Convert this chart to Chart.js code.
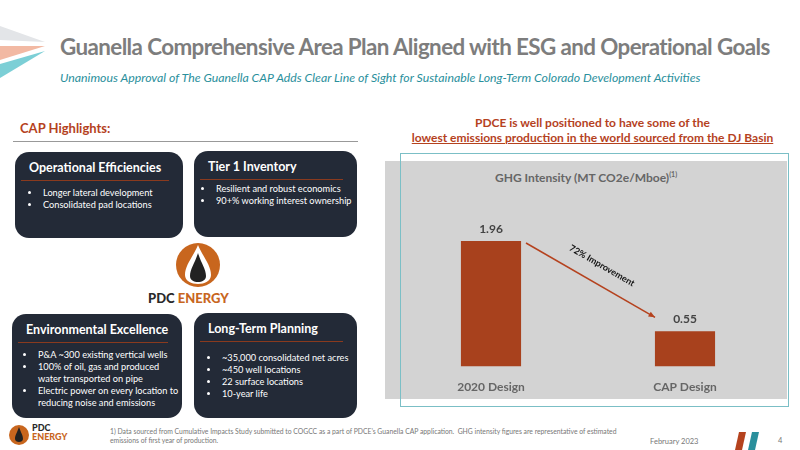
<!DOCTYPE html>
<html>
<head>
<meta charset="utf-8">
<script src="https://cdn.jsdelivr.net/npm/chart.js@4"></script>
<style>
  body { margin: 0; width: 800px; height: 450px; overflow: hidden; background: #fff; font-family: Lato, "Open Sans", sans-serif; position: relative; }
  .abs { position: absolute; }
  .box { position: absolute; background: #232a37; border-radius: 14px; color: #fff; }
  .box h3 { margin: 0 14px 0 6px; font-size: 12.5px; font-weight: bold; padding: 8px 0 5px 8px; border-bottom: 1px solid #8a3a1e; white-space: nowrap; }
  .box ul { margin: 6px 0 0 0; padding-left: 26px; font-size: 9.2px; line-height: 12px; }
  .box li { padding-left: 2px; }
</style>
</head>
<body>
<svg class="abs" style="left:0;top:18px" width="50" height="60">
  <polygon points="0,8 45,24 0,22" fill="#e3e5e8"/>
  <polygon points="0,28 45,28 0,42" fill="#f2b9a3"/>
  <polygon points="0,46 45,33 0,60" fill="#7ccfd6"/>
</svg>
<div class="abs" style="left:60px;top:33px;font-size:22.4px;font-weight:bold;color:#7d7d7d;letter-spacing:-0.6px;white-space:nowrap">Guanella Comprehensive Area Plan Aligned with ESG and Operational Goals</div>
<div class="abs" style="left:60px;top:70px;font-size:12.3px;font-style:italic;color:#2a8f9c;white-space:nowrap">Unanimous Approval of The Guanella CAP Adds Clear Line of Sight for Sustainable Long-Term Colorado Development Activities</div>

<div class="abs" style="left:20px;top:120px;font-size:13px;font-weight:bold;color:#b5421e">CAP Highlights:</div>
<div class="abs" style="left:13px;top:141px;width:345px;height:1px;background:#999"></div>

<div class="box" style="left:15px;top:152px;width:168px;height:86px"><h3>Operational Efficiencies</h3><ul><li>Longer lateral development</li><li>Consolidated pad locations</li></ul></div>
<div class="box" style="left:194px;top:151px;width:163px;height:86px"><h3>Tier 1 Inventory</h3><ul style="padding-left:20px;margin-top:3px"><li>Resilient and robust economics</li><li style="white-space:nowrap">90+% working interest ownership</li></ul></div>
<div class="box" style="left:12px;top:314px;width:170px;height:104px"><h3>Environmental Excellence</h3><ul style="padding-left:24px"><li>P&amp;A ~300 existing vertical wells</li><li>100% of oil, gas and produced water transported on pipe</li><li>Electric power on every location to reducing noise and emissions</li></ul></div>
<div class="box" style="left:194px;top:313px;width:163px;height:105px"><h3>Long-Term Planning</h3><ul style="margin-top:10px"><li>~35,000 consolidated net acres</li><li>~450 well locations</li><li>22 surface locations</li><li>10-year life</li></ul></div>

<svg class="abs" style="left:163px;top:243px" width="70" height="45">
  <circle cx="35" cy="22" r="22" fill="#c8661e"/>
  <path d="M35,2 C30,14 22,22 22,32 C22,44 48,44 48,32 C48,22 40,14 35,2Z" fill="#fff"/>
  <path d="M35,10 C32,20 27,26 27,33 C27,41 43,41 43,33 C43,26 38,20 35,10Z" fill="#222"/>
</svg>
<div class="abs" style="left:148px;top:290px;font-size:13px;font-weight:900"><span style="color:#2a2a2a">PDC </span><span style="color:#c8661e">ENERGY</span></div>

<div class="abs" style="left:385px;top:115px;width:415px;text-align:center;font-size:12px;font-weight:bold;color:#b5421e;line-height:15px">PDCE is well positioned to have some of the<br><span style="text-decoration:underline">lowest emissions production in the world sourced from the DJ Basin</span></div>
<div class="abs" style="left:385px;top:161px;width:402px;height:238px;background:#d3d3d3"></div>
<div class="abs" style="left:385px;top:170px;width:402px;text-align:center;font-size:12px;font-weight:bold;color:#666">GHG Intensity (MT CO2e/Mboe)<sup style="font-size:7px">(1)</sup></div>
<div class="abs" style="left:385px;top:161px;width:402px;height:238px"><canvas id="ghg"></canvas></div>
<div class="abs" style="left:400px;top:153px;width:389px;height:254px;border:1px solid #7bbfc6;box-sizing:border-box"></div>

<svg class="abs" style="left:8px;top:424px" width="22" height="22"><circle cx="11" cy="11" r="10" fill="#c8661e"/><path d="M11,3 C9,9 7,11 7,15 C7,19 15,19 15,15 C15,11 13,9 11,3Z" fill="#222"/></svg>
<div class="abs" style="left:32px;top:423px;font-size:9px;font-weight:900;line-height:9px"><span style="color:#2a2a2a">PDC</span><br><span style="color:#c8661e">ENERGY</span></div>
<div class="abs" style="left:110px;top:427px;font-size:6.8px;color:#777;line-height:9px;width:520px">1) Data sourced from Cumulative Impacts Study submitted to COGCC as a part of PDCE’s Guanella CAP application.&nbsp; GHG intensity figures are representative of estimated emissions of first year of production.</div>
<div class="abs" style="left:650px;top:437px;font-size:7.5px;color:#777">February 2023</div>
<svg class="abs" style="left:733px;top:432px" width="30" height="18"><polygon points="6,0 13,0 9,18 2,18" fill="#b5421e"/><polygon points="19,0 26,0 22,18 15,18" fill="#2a8f9c"/></svg>
<div class="abs" style="left:778px;top:436px;font-size:7.5px;color:#777">4</div>

<script>
const categories = ['2020 Design', 'CAP Design'];
const ghgIntensity = [1.96, 0.55];
const improvementLabel = '72% Improvement';

const barLabels = {
  id: 'barLabels',
  afterDatasetsDraw(chart) {
    const ctx = chart.ctx;
    const bars = chart.getDatasetMeta(0).data;
    ctx.save();
    ctx.font = 'bold 12px Lato';
    ctx.fillStyle = '#444';
    ctx.textAlign = 'center';
    bars.forEach((b, i) => ctx.fillText(ghgIntensity[i].toFixed(2), b.x, b.y - 8));
    // arrow between bars
    const a = bars[0], c = bars[1];
    const x1 = a.x + 35, y1 = a.y + 2, x2 = c.x - 30, y2 = c.y - 14;
    ctx.strokeStyle = '#b5421e';
    ctx.fillStyle = '#b5421e';
    ctx.lineWidth = 1.5;
    ctx.beginPath(); ctx.moveTo(x1, y1); ctx.lineTo(x2, y2); ctx.stroke();
    const ang = Math.atan2(y2 - y1, x2 - x1);
    ctx.beginPath();
    ctx.moveTo(x2, y2);
    ctx.lineTo(x2 - 7 * Math.cos(ang - 0.4), y2 - 7 * Math.sin(ang - 0.4));
    ctx.lineTo(x2 - 7 * Math.cos(ang + 0.4), y2 - 7 * Math.sin(ang + 0.4));
    ctx.fill();
    ctx.translate((x1 + x2) / 2 + 10, (y1 + y2) / 2 - 12);
    ctx.rotate(ang);
    ctx.font = 'bold 9px Lato';
    ctx.fillStyle = '#111';
    ctx.fillText(improvementLabel, 0, 0);
    ctx.restore();
  }
};

new Chart(document.getElementById('ghg'), {
  type: 'bar',
  data: {
    labels: categories,
    datasets: [{
      data: ghgIntensity,
      backgroundColor: '#a8411d',
      barPercentage: 0.62,
      categoryPercentage: 0.5
    }]
  },
  options: {
    responsive: true,
    maintainAspectRatio: false,
    animation: false,
    layout: { padding: { left: 9, right: 5, top: 39, bottom: 0 } },
    plugins: { legend: { display: false }, tooltip: { enabled: false } },
    scales: {
      x: {
        grid: { display: false },
        border: { display: false },
        ticks: { color: '#666', font: { family: 'Lato', size: 12, weight: 'bold' }, padding: 5 }
      },
      y: { display: false, min: 0, max: 2.6 }
    }
  },
  plugins: [barLabels]
});
</script>
</body>
</html>
